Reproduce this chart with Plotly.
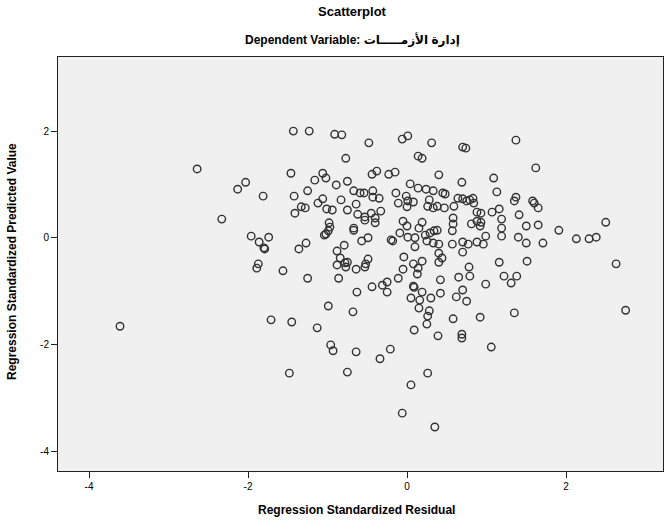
import plotly.graph_objects as go

# Regression standardized residual (x) and predicted value (y)
residual = [
    -1.43, -1.23, -0.91, -0.82, -0.48, -0.06, 0.01, 0.31, -0.77, 0.14,
    0.19, -0.44, -0.38, -0.23, -0.15, 0.40, -0.75, 0.04, 0.14, 0.24,
    0.33, -0.67, -0.59, -0.54, -0.43, -0.43, -0.35, -0.14, -0.11, -0.01,
    0.01, 0.08, 0.00, -0.83, -0.75, -0.64, -0.62, -0.53, -0.53, -0.45,
    -0.40, -0.40, -0.33, 0.28, 0.26, 0.33, 0.38, -0.67, -0.05, 0.00,
    0.19, 0.15, -1.46, -1.06, -1.02, -1.16, -0.89, -2.03, -2.13, -1.81,
    -1.42, -1.25, -1.06, -1.12, -1.01, -0.94, -1.33, -1.28, -1.41, -0.98,
    -2.64, -2.33, -3.61, -1.96, -1.86, -1.74, -1.80, -1.79, -1.36, -1.27,
    -1.04, -1.02, -0.99, -0.97, -0.88, -0.84, -0.88, -1.87, -1.89, -1.56,
    -1.25, -0.86, -0.99, -1.71, -1.45, -1.13, -0.67, -0.57, -0.49, -0.20,
    -0.18, -0.09, 0.01, 0.10, 0.10, 0.23, 0.29, 0.34, 0.38, 0.25,
    0.33, 0.40, -0.79, -0.78, -0.75, -0.77, -0.64, -0.53, -0.49, -0.52,
    -0.04, 0.08, 0.19, 0.14, 0.13, -0.05, -0.11, 0.40, 0.40, -0.44,
    -0.31, -0.25, -0.25, 0.08, 0.09, -0.63, 0.19, 0.05, 0.16, 0.30,
    0.42, 0.15, 0.28, 0.26, 0.25, -0.68, 0.09, 0.42, 0.57, 0.58,
    0.81, 0.92, 1.19, 1.19, 1.50, 1.65, 1.91, 1.40, 1.50, 1.71,
    2.13, 2.29, 2.38, 0.57, 0.70, 0.77, 0.88, 0.96, 0.99, 0.70,
    0.44, 1.16, 1.51, 2.63, 0.78, 0.65, 0.79, 1.22, 1.38, 1.31,
    0.99, 0.70, 0.62, 0.75, 1.35, 0.92, 0.58, 2.75, 0.69, -0.96,
    -0.93, -1.48, 0.39, 0.69, 1.06, -0.64, -0.21, -0.34, -0.75, 0.26,
    0.05, -0.06, 0.35, 0.70, 0.74, 1.37, 1.62, 0.69, 1.09, 1.13,
    0.45, 0.48, 0.64, 0.70, 0.75, 0.79, 0.83, 0.84, 0.47, 0.59,
    1.37, 1.35, 1.58, 1.60, 1.65, 1.07, 1.16, 0.88, 0.93, 1.41,
    0.58, 1.19, 0.88, 0.93, 2.50,
]

predicted = [
    2.00, 2.00, 1.94, 1.93, 1.78, 1.85, 1.91, 1.78, 1.49, 1.53,
    1.49, 1.19, 1.25, 1.19, 1.23, 1.18, 1.06, 1.01, 0.93, 0.91,
    0.88, 0.88, 0.84, 0.84, 0.88, 0.76, 0.74, 0.84, 0.65, 0.78,
    0.69, 0.67, 0.58, 0.71, 0.52, 0.63, 0.44, 0.39, 0.33, 0.46,
    0.37, 0.28, 0.50, 0.71, 0.59, 0.56, 0.59, 0.18, 0.31, 0.22,
    0.29, 0.18, 1.21, 1.21, 1.12, 1.08, 0.99, 1.04, 0.91, 0.78,
    0.78, 0.88, 0.73, 0.65, 0.54, 0.52, 0.58, 0.56, 0.46, 0.28,
    1.29, 0.35, -1.66, 0.03, -0.08, 0.01, -0.19, -0.21, -0.21, -0.10,
    0.05, 0.07, 0.13, 0.20, -0.25, -0.38, -0.51, -0.49, -0.57, -0.62,
    -0.76, -0.76, -1.28, -1.54, -1.58, -1.69, 0.14, -0.06, 0.00, -0.04,
    -0.06, 0.09, 0.01, 0.00, -0.17, 0.05, 0.09, 0.13, 0.14, -0.06,
    -0.10, -0.12, -0.14, -0.47, -0.46, -0.55, -0.59, -0.55, -0.40, -0.49,
    -0.36, -0.49, -0.44, -0.57, -0.68, -0.59, -0.76, -0.29, -0.46, -0.92,
    -0.89, -0.83, -1.02, -0.91, -0.93, -1.02, -1.02, -1.13, -1.17, -1.13,
    -1.04, -1.32, -1.37, -1.47, -1.62, -1.39, -1.73, -0.79, 0.13, 0.26,
    0.26, 0.22, 0.18, 0.03, 0.22, 0.24, 0.14, 0.01, -0.10, -0.10,
    -0.02, -0.02, 0.01, -0.12, -0.08, -0.12, -0.08, -0.12, 0.03, -0.27,
    -0.38, -0.46, -0.44, -0.49, -0.55, -0.74, -0.72, -0.72, -0.72, -0.85,
    -0.87, -0.98, -1.11, -1.19, -1.41, -1.49, -1.52, -1.36, -1.81, -2.01,
    -2.12, -2.54, -1.84, -1.88, -2.05, -2.14, -2.09, -2.27, -2.52, -2.54,
    -2.76, -3.29, -3.55, 1.70, 1.68, 1.83, 1.31, 1.04, 1.12, 0.86,
    0.84, 0.82, 0.74, 0.73, 0.69, 0.71, 0.74, 0.65, 0.56, 0.59,
    0.76, 0.69, 0.69, 0.65, 0.56, 0.48, 0.54, 0.48, 0.46, 0.43,
    0.37, 0.35, 0.31, 0.29, 0.29,
]

tick_vals = [-4, -2, 0, 2]
tick_text = ["-4", "-2", "0", "2"]

title_text = "Scatterplot"
subtitle_text = "Dependent Variable: إدارة الأزمـــــات"
x_title = "Regression Standardized Residual"
y_title = "Regression Standardized Predicted Value"

FONT = "Liberation Sans, Arial, DejaVu Sans, sans-serif"

fig = go.Figure()
fig.add_trace(go.Scatter(
    x=residual, y=predicted, mode="markers",
    marker=dict(symbol="circle-open", size=7.5, color="#333333",
                line=dict(width=1.4, color="#333333")),
    hoverinfo="x+y", showlegend=False,
))

L, R, T, B = 58, 4, 57, 55
W, H = 667, 526
pw, ph = W - L - R, H - T - B

def px_x(px):
    return (px - L) / pw

def px_y(py):
    return (H - B - py) / ph

axis_common = dict(
    showgrid=False, zeroline=False, showline=True, mirror=True,
    linecolor="#222222", linewidth=1, ticks="outside", ticklen=6,
    tickcolor="#222222", tickwidth=1,
    tickfont=dict(family=FONT, size=10, color="#000000"),
    tickvals=tick_vals, ticktext=tick_text,
)

fig.update_xaxes(range=[-4.39, 3.22], **axis_common)
fig.update_yaxes(range=[-4.375, 3.39], **axis_common)

fig.update_layout(
    width=W, height=H,
    margin=dict(l=L, r=R, t=T, b=B, pad=0),
    paper_bgcolor="#ffffff", plot_bgcolor="#f0f0f0",
    font=dict(family=FONT, color="#000000"),
    annotations=[
        dict(text="<b>%s</b>" % title_text, xref="paper", yref="paper",
             x=px_x(352), y=px_y(12), xanchor="center", yanchor="middle",
             showarrow=False, font=dict(family=FONT, size=13, color="#000")),
        dict(text="<b>%s</b>" % subtitle_text, xref="paper", yref="paper",
             x=px_x(352), y=px_y(39), xanchor="center", yanchor="middle",
             showarrow=False, font=dict(family=FONT, size=12, color="#000")),
        dict(text="<b>%s</b>" % x_title, xref="paper", yref="paper",
             x=px_x(356), y=px_y(510), xanchor="center", yanchor="middle",
             showarrow=False, font=dict(family=FONT, size=12, color="#000")),
        dict(text="<b>%s</b>" % y_title, xref="paper", yref="paper",
             x=px_x(12), y=px_y(262), xanchor="center", yanchor="middle",
             textangle=-90, showarrow=False,
             font=dict(family=FONT, size=12, color="#000")),
    ],
)

fig.write_html(
    "out.html",
    config={"displayModeBar": False},
    post_script="document.body.style.margin='0';document.body.style.overflow='hidden';",
)
